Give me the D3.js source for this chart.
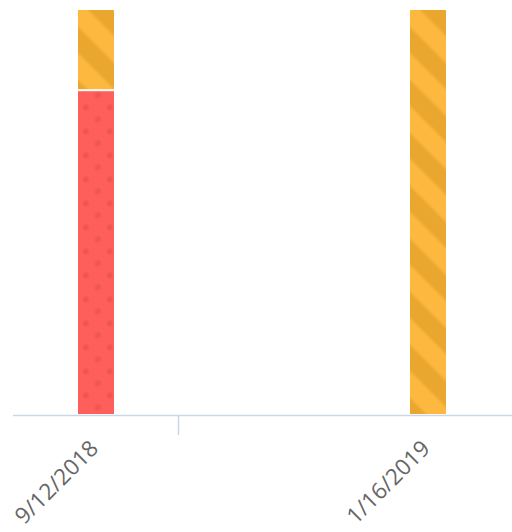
<!DOCTYPE html>
<html>
<head>
<meta charset="utf-8">
<script src="https://cdn.jsdelivr.net/npm/d3@7/dist/d3.min.js"></script>
<style>
  html, body { margin: 0; padding: 0; background: #ffffff; }
  svg { display: block; }
</style>
</head>
<body>
<svg id="chart" width="512" height="532"></svg>
<script>
// ---- data ----
const categories = ["2018-09-12", "2019-01-16"];
const categoryLabels = ["9/12/2018", "1/16/2019"];
const seriesNames = ["Series 1", "Series 2"];
const series1Values = [4, 0];   // red, dotted (bottom)
const series2Values = [1, 5];   // orange, striped (top)
const tickDates = ["2018-10-13"];
const axisDomain = ["2018-08-11", "2019-02-17"];
const yMax = 5;

// ---- layout ----
const plotLeft = 13, plotRight = 512, plotTop = 9, plotBottom = 415;
const barWidth = 38;

const parse = d3.utcParse("%Y-%m-%d");
const svg = d3.select("#chart");
const defs = svg.append("defs");

const x = d3.scaleUtc()
  .domain(axisDomain.map(parse))
  .range([plotLeft - 1, plotRight]);
const y = d3.scaleLinear().domain([0, yMax]).range([plotBottom, plotTop]);

const rows = categories.map((c, i) => ({
  date: parse(c), label: categoryLabels[i], s1: series1Values[i], s2: series2Values[i]
}));
const stacked = d3.stack().keys(["s1", "s2"])(rows);

// soft dot gradient
const rg = defs.append("radialGradient").attr("id", "dotGrad");
rg.append("stop").attr("offset", "0%").attr("stop-color", "#d94a4a").attr("stop-opacity", 0.55);
rg.append("stop").attr("offset", "60%").attr("stop-color", "#d94a4a").attr("stop-opacity", 0.35);
rg.append("stop").attr("offset", "100%").attr("stop-color", "#d94a4a").attr("stop-opacity", 0);

// soft stripe gradient (across one stripe period)
const light = "#fdb83f", dark = "#e9a72f";
const lg = defs.append("linearGradient").attr("id", "stripeGrad")
  .attr("x1", "0").attr("x2", "1").attr("y1", "0").attr("y2", "0");
[[0, light], [0.14, light], [0.24, dark], [0.63, dark], [0.73, light], [1, light]]
  .forEach(([o, c]) => lg.append("stop").attr("offset", o).attr("stop-color", c));

let pid = 0;
function stripePattern(x0, top) {
  const id = "stripe" + (pid++);
  const P = 53 / Math.SQRT2;
  const p = defs.append("pattern").attr("id", id)
    .attr("patternUnits", "userSpaceOnUse")
    .attr("width", P).attr("height", 10)
    .attr("patternTransform", `translate(${x0},${top}) rotate(-45)`);
  p.append("rect").attr("width", P).attr("height", 10).attr("fill", "url(#stripeGrad)");
  return id;
}
function dotPattern(x0, top) {
  const id = "dots" + (pid++);
  const P = 24;
  const p = defs.append("pattern").attr("id", id)
    .attr("patternUnits", "userSpaceOnUse")
    .attr("width", P).attr("height", P)
    .attr("patternTransform", `translate(${x0 + 8.7},${top - 7})`);
  p.append("rect").attr("width", P).attr("height", P).attr("fill", "#ff5f5b");
  [[12, 12], [0, 0], [P, 0], [0, P], [P, P]].forEach(([cx, cy]) => {
    p.append("circle").attr("cx", cx).attr("cy", cy).attr("r", 4.2).attr("fill", "url(#dotGrad)");
  });
  return id;
}

// ---- bars ----
const gBars = svg.append("g");
stacked.forEach((layer, li) => {
  layer.forEach(seg => {
    const h = y(seg[0]) - y(seg[1]);
    if (h <= 0) return;
    const cx = x(seg.data.date);
    const x0 = Math.round(cx - barWidth / 2);
    const top = y(seg[1]);
    const fillId = li === 0 ? dotPattern(x0, top) : stripePattern(x0, top);
    gBars.append("rect")
      .attr("x", x0 + 0.5)
      .attr("y", top + 0.5)
      .attr("width", barWidth - 1)
      .attr("height", h - 1)
      .attr("fill", `url(#${fillId})`)
      .attr("stroke", "#ffffff")
      .attr("stroke-width", 1);
  });
});

// ---- x axis ----
const gAxis = svg.append("g");
gAxis.append("line")
  .attr("x1", plotLeft).attr("x2", plotRight)
  .attr("y1", plotBottom + 0.5).attr("y2", plotBottom + 0.5)
  .attr("stroke", "#ccd6eb").attr("stroke-width", 1.5);
gAxis.selectAll("line.tick").data(tickDates.map(parse)).enter().append("line")
  .attr("class", "tick")
  .attr("x1", d => Math.round(x(d)) + 0.5).attr("x2", d => Math.round(x(d)) + 0.5)
  .attr("y1", plotBottom).attr("y2", plotBottom + 20)
  .attr("stroke", "#ccd6eb").attr("stroke-width", 1.5);

gAxis.selectAll("text.lbl").data(rows).enter().append("text")
  .attr("class", "lbl")
  .attr("transform", d => `translate(${x(d.date) + 3.5},${plotBottom + 35}) rotate(-45)`)
  .attr("text-anchor", "end")
  .attr("font-family", "'Open Sans', sans-serif")
  .attr("font-size", 22.5)
  .attr("fill", "#666666")
  .text(d => d.label);
</script>
</body>
</html>
